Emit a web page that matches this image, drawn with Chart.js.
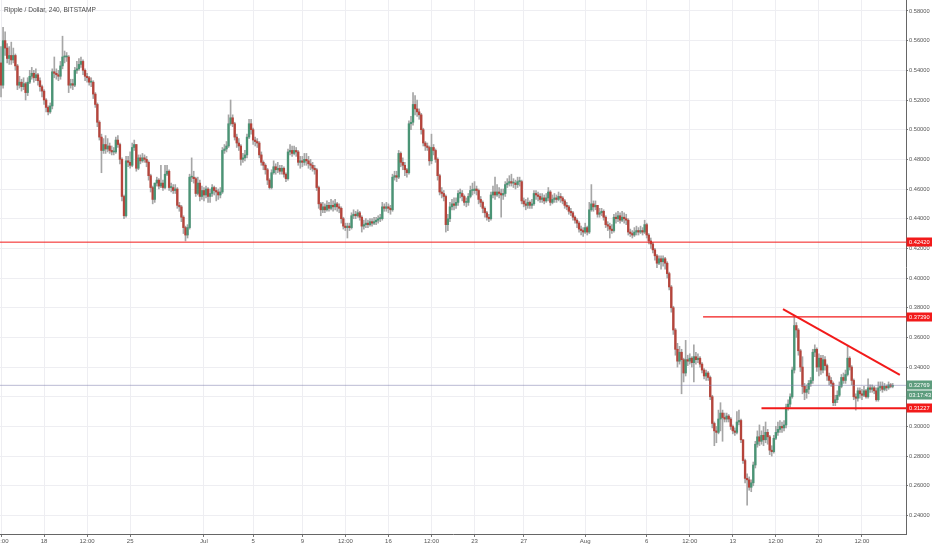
<!DOCTYPE html>
<html lang="en">
<head>
<meta charset="UTF-8">
<title>Ripple / Dollar, 240, BITSTAMP</title>
<script src="https://cdn.jsdelivr.net/npm/chart.js"></script>
<style>
  html, body { margin: 0; padding: 0; background: #fff; }
  #wrap { position: relative; width: 932px; height: 550px; }
  #title { position: absolute; left: 4px; top: 6px; font: 6.6px "Liberation Sans", Arial, sans-serif; color: #4a4a4a; }
</style>
</head>
<body>
<div id="wrap">
  <canvas id="chart"></canvas>
  <div id="title">Ripple / Dollar, 240, BITSTAMP</div>
</div>
<script>
// 4h candles from 14 Jun 12:00, prices in 0.001 USD; open = previous close
const firstOpen = 545;
const closes = [
  530,560,555,548,550,547,550,543,530,532, 529,531,525,532,536,538,535,537,533,529,
  526,520,515,512,516,539,538,537,536,543, 549,549,549,530,531,530,540,541,544,546,
  540,536,535,532,532,524,517,505,495,486, 490,487,489,486,485,485,493,490,480,455,
  442,479,478,476,488,490,474,481,479,481, 480,478,469,461,453,464,466,462,464,461,
  470,472,461,461,459,460,449,448,441,434, 429,434,468,468,467,457,464,455,459,456,
  460,455,457,461,459,458,456,458,486,487, 489,504,508,504,495,491,489,480,481,483,
  495,504,500,493,492,491,483,478,476,473, 466,461,471,475,473,474,472,474,470,467,
  485,486,484,486,485,478,479,478,480,479, 477,476,474,473,461,450,446,448,446,449,
  447,449,448,450,448,447,440,435,434,435, 434,442,443,442,444,441,435,436,437,436,
  438,437,438,439,440,440,448,447,448,447, 446,468,469,468,484,478,476,473,471,504,
  505,517,514,512,510,500,491,489,488,479, 488,486,480,469,458,457,455,436,440,448,
  450,449,451,457,457,455,451,451,455,459, 459,460,459,453,451,447,444,441,440,456,
  458,456,458,457,456,457,463,464,465,464, 464,463,465,465,452,450,449,451,449,450,
  457,456,455,453,454,452,454,458,451,453, 454,453,455,454,452,449,448,445,444,441,
  439,437,433,432,431,434,431,446,450,448, 449,443,444,445,441,436,435,433,432,441,
  440,442,439,441,440,439,431,430,429,431, 432,431,432,431,436,429,425,423,419,415,
  410,413,411,413,410,403,394,380,365,352, 344,350,345,336,345,344,346,343,347,345,
  346,342,338,334,336,333,320,302,297,296, 305,309,306,305,307,305,300,297,296,303,
  304,291,277,265,264,259,262,274,288,293, 290,294,291,296,293,284,283,292,296,298,
  300,299,301,313,315,320,338,368,365,351, 340,327,323,325,329,331,350,352,340,346,
  338,345,341,334,331,329,316,318,321,327, 333,331,335,346,340,331,320,319,324,322,
  321,324,320,326,325,326,324,318,326,327, 325,327,326,328,327,327.69
];
const highs = [
  556,569,566,558,556,559,555,551,544,536, 534,535,532,535,540,542,540,541,538,535,
  530,527,521,516,518,541,549,541,540,546, 563,553,552,550,534,534,542,546,548,549,
  547,541,538,536,535,533,525,518,506,497, 494,496,494,491,489,488,495,496,491,481,
  456,482,482,485,491,493,490,483,483,484, 483,482,479,470,462,464,468,467,476,466,
  476,476,473,464,463,463,461,451,449,442, 435,436,470,481,472,468,468,466,462,461,
  462,461,460,463,462,461,460,461,488,490, 492,510,520,510,505,497,494,490,484,486,
  497,507,507,501,495,494,492,485,479,477, 474,467,473,479,477,478,476,476,475,471,
  487,490,489,489,488,486,482,482,484,484, 482,480,478,476,474,462,451,451,450,452,
  451,453,452,453,451,450,448,441,437,437, 437,444,446,445,446,445,442,439,440,439,
  440,440,441,441,442,443,451,450,451,450, 449,470,472,472,486,485,481,478,474,506,
  509,525,523,520,514,511,501,492,491,489, 497,490,487,481,470,461,459,456,443,451,
  453,454,454,459,460,459,456,454,457,462, 464,465,462,460,455,452,448,445,443,458,
  462,468,463,461,460,460,465,467,469,470, 467,466,468,468,466,454,453,454,452,453,
  459,459,458,457,457,456,457,461,459,456, 457,456,458,457,455,453,451,449,447,445,
  442,440,438,435,434,437,435,451,463,452, 452,449,447,447,446,442,438,437,436,443,
  444,445,444,445,444,443,440,433,432,434, 435,434,435,434,439,437,430,427,424,420,
  416,415,415,415,414,411,404,395,381,366, 356,354,352,346,358,348,349,347,355,350,
  349,347,343,339,338,337,334,321,303,300, 311,316,311,309,309,308,306,301,299,310,
  311,305,291,278,268,266,264,276,290,297, 301,297,300,303,298,294,287,294,300,303,
  304,303,304,315,318,322,340,374,370,366, 352,347,329,328,331,333,352,355,353,349,
  348,348,347,342,336,333,330,321,324,330, 335,336,338,354,347,341,332,322,326,326,
  325,327,325,332,328,328,327,326,330,330, 330,329,328,330,329,329
];
const lows = [
  522,528,550,545,544,544,545,540,527,528, 526,527,520,523,531,534,532,533,530,526,
  522,517,512,510,511,514,535,534,533,534, 541,545,546,525,528,527,529,538,540,542,
  537,533,532,530,529,521,515,502,493,471, 484,484,485,484,483,483,484,488,477,452,
  440,441,475,474,475,486,472,473,477,478, 478,475,466,458,450,451,462,460,461,459,
  460,469,459,458,457,457,447,445,438,430, 425,427,433,465,464,455,456,452,453,452,
  454,451,451,455,456,452,453,454,457,484, 485,488,503,502,493,488,486,476,478,479,
  481,494,497,490,489,488,481,476,473,470, 463,460,460,470,470,471,470,470,468,465,
  466,483,482,483,482,476,474,475,476,476, 474,473,472,470,459,447,442,444,444,445,
  445,446,445,446,445,444,437,433,432,427, 432,433,440,440,441,439,431,433,434,434,
  435,435,436,436,437,438,439,445,445,444, 443,445,466,465,467,475,473,469,468,470,
  500,503,510,509,507,497,489,486,486,476, 477,483,478,466,456,454,452,431,432,438,
  446,446,447,449,454,452,449,448,449,454, 456,457,456,450,448,444,441,439,438,439,
  454,453,455,454,441,453,455,461,462,462, 461,460,461,462,450,448,446,447,447,447,
  449,453,452,451,451,450,451,452,449,450, 451,451,452,451,450,447,446,443,442,439,
  437,434,431,429,428,430,429,430,445,445, 446,441,441,442,439,434,432,427,430,431,
  437,438,437,438,437,436,429,428,427,428, 429,429,430,429,430,427,423,420,417,412,
  407,409,406,408,406,400,392,377,362,348, 340,342,322,330,334,341,342,340,330,342,
  343,340,336,332,331,331,318,299,287,289, 295,297,290,303,303,303,298,295,294,295,
  301,289,275,262,247,257,256,260,272,286, 287,288,287,289,288,281,280,282,291,294,
  296,296,297,299,311,313,319,336,360,348, 337,322,318,319,322,327,329,347,337,334,
  335,336,338,331,328,327,314,314,316,320, 326,329,329,334,338,328,318,311,317,319,
  318,320,319,319,323,323,322,317,317,324, 323,324,324,325,326,326
];

// time axis labels, placed at candle index
const xTickIdx = [0, 21, 42, 63, 99, 123, 147, 168, 189, 210, 231, 255, 285, 315, 336, 357, 378, 399, 420];
const xTickText = ['12:00', '18', '12:00', '25', 'Jul', '5', '9', '12:00', '16', '12:00', '23', '27', 'Aug', '6', '12:00', '13', '12:00', '20', '12:00'];
const yTicks = [0.24, 0.26, 0.28, 0.30, 0.32, 0.34, 0.36, 0.38, 0.40, 0.42, 0.44, 0.46, 0.48, 0.50, 0.52, 0.54, 0.56, 0.58];

// drawn levels (price, first candle index) and the falling trend line
const levelPrices = [0.4242, 0.3739, 0.31227];
const levelStart = [-0.5, 342.5, 371];
const trendX = [381.5, 438.5];
const trendY = [0.3791, 0.3347];
const countdown = '03:17:43';

const UP = '#4a9475', DOWN = '#b5443b', RED = '#f21a1a', TAG_GREEN = '#5d9c7d';
const FONT = '"Liberation Sans", Arial, sans-serif';
const k = v => v / 1000;

const candles = closes.map((c, i) => {
    const o = i === 0 ? firstOpen : closes[i - 1];
    return { i, o, c, h: Math.max(highs[i], o, c), l: Math.min(lows[i], o, c) };
});
const lastPrice = k(closes[closes.length - 1]);

Chart.defaults.font.family = FONT;

const overlay = {
    id: 'overlay',
    afterDatasetsDraw(chart) {
        const { ctx, chartArea: a, scales: { x, y } } = chart;
        ctx.save();
        ctx.beginPath();
        ctx.rect(a.left, a.top, a.right - a.left, a.bottom - a.top);
        ctx.clip();
        const seg = (x0, y0, x1, y1, color, w) => {
            ctx.strokeStyle = color;
            ctx.lineWidth = w;
            ctx.beginPath();
            ctx.moveTo(x0, y0);
            ctx.lineTo(x1, y1);
            ctx.stroke();
        };
        const py = y.getPixelForValue(lastPrice);
        seg(a.left, py, a.right, py, 'rgba(130,130,175,0.55)', 1);
        const widths = [1, 1.3, 2];
        levelPrices.forEach((p, j) => {
            const yy = y.getPixelForValue(p);
            seg(x.getPixelForValue(levelStart[j]), yy, a.right, yy, RED, widths[j]);
        });
        seg(x.getPixelForValue(trendX[0]), y.getPixelForValue(trendY[0]),
            x.getPixelForValue(trendX[1]), y.getPixelForValue(trendY[1]), RED, 2);
        ctx.restore();
    },
    afterDraw(chart) {
        const { ctx, chartArea: a, scales: { y } } = chart;
        const tag = (yy, text, bg) => {
            const cy = Math.round(yy);
            ctx.fillStyle = bg;
            ctx.fillRect(a.right + 0.5, cy - 4.5, 26, 9);
            ctx.fillStyle = '#fff';
            ctx.font = '5.7px ' + FONT;
            ctx.textBaseline = 'middle';
            ctx.textAlign = 'left';
            ctx.fillText(text, a.right + 3, cy + 0.5);
        };
        ctx.save();
        levelPrices.forEach(p => tag(y.getPixelForValue(p), p.toFixed(5), RED));
        const py = y.getPixelForValue(lastPrice);
        tag(py, lastPrice.toFixed(5), TAG_GREEN);
        tag(py + 10, countdown, TAG_GREEN);
        ctx.restore();
    }
};

new Chart(document.getElementById('chart'), {
    type: 'bar',
    data: {
        datasets: [{
            label: 'wick',
            data: candles.map(d => ({ x: d.i, y: [k(d.l), k(d.h)] })),
            backgroundColor: '#a6a6a6',
            barThickness: 1,
            grouped: false,
            order: 2
        }, {
            label: 'body',
            data: candles.map(d => ({ x: d.i, y: [k(d.o), k(d.c)] })),
            backgroundColor: candles.map(d => d.c >= d.o ? UP : DOWN),
            barThickness: 1.7,
            minBarLength: 1,
            grouped: false,
            order: 1
        }]
    },
    options: {
        responsive: true,
        maintainAspectRatio: false,
        animation: false,
        events: [],
        layout: { padding: 0 },
        plugins: { legend: { display: false }, tooltip: { enabled: false } },
        scales: {
            x: {
                type: 'linear',
                min: -0.5,
                max: 441.5,
                offset: false,
                grid: { offset: false, color: '#eeeef2', tickLength: 3, tickColor: '#777' },
                border: { color: '#666' },
                ticks: {
                    autoSkip: false, maxRotation: 0, padding: 1, color: '#555',
                    font: { size: 6 },
                    callback: (v, idx) => xTickText[idx]
                },
                afterBuildTicks: ax => { ax.ticks = xTickIdx.map(v => ({ value: v })); },
                afterFit: ax => { ax.height = 16; ax.paddingLeft = 0; ax.paddingRight = 0; }
            },
            y: {
                position: 'right',
                min: 0.2275,
                max: 0.5874,
                grid: { color: '#eeeef2', tickLength: 2, tickColor: '#777' },
                border: { color: '#666' },
                ticks: {
                    padding: 1, color: '#555',
                    font: { size: 5.7 },
                    callback: v => v.toFixed(5)
                },
                afterBuildTicks: ax => { ax.ticks = yTicks.map(v => ({ value: v })); },
                afterFit: ax => { ax.width = 26; ax.paddingTop = 0; ax.paddingBottom = 0; }
            }
        }
    },
    plugins: [overlay]
});
</script>
</body>
</html>
